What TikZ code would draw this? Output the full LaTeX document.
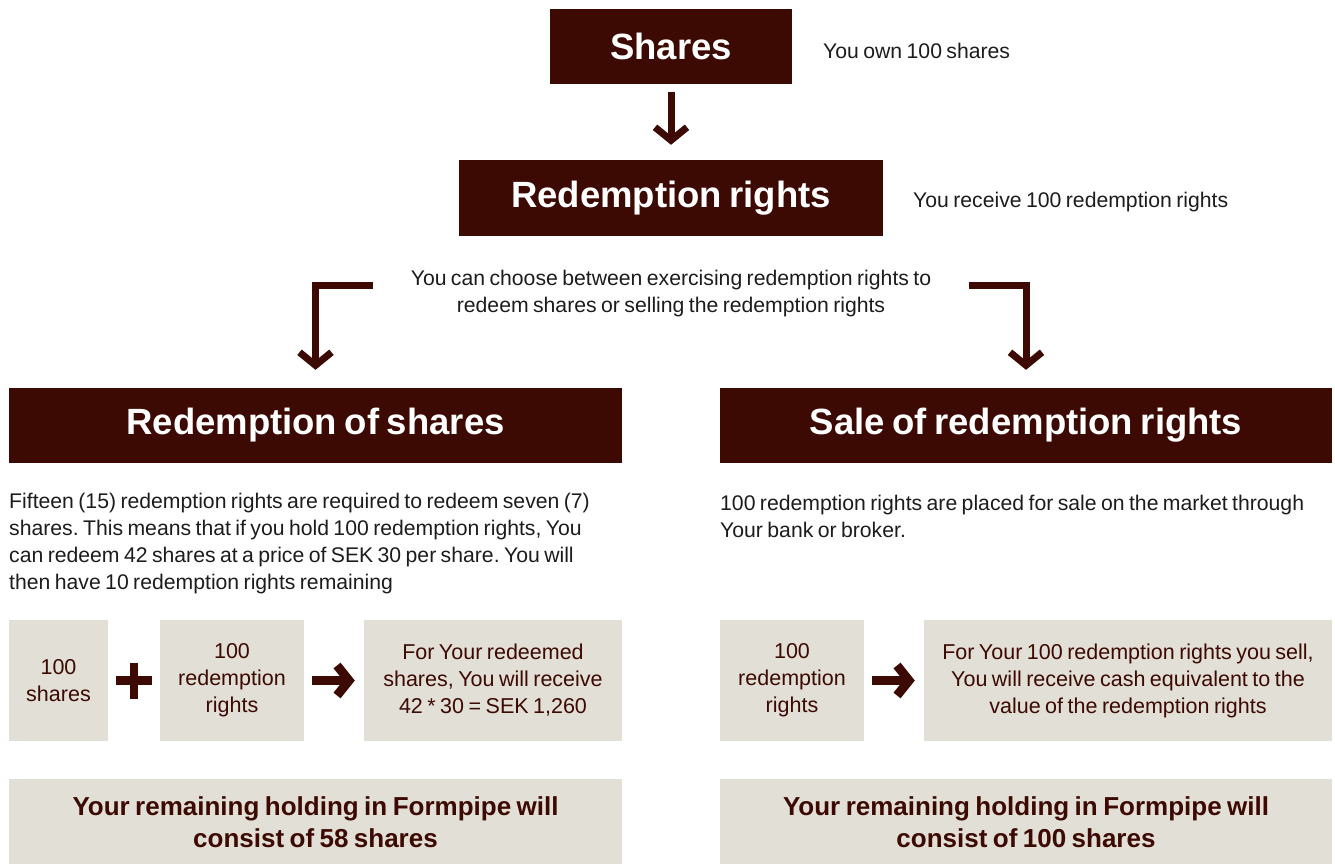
\documentclass[tikz,border=0pt]{standalone}
\usepackage{fontspec}
\setmainfont{Liberation Sans}[WordSpace=0.75]
\usetikzlibrary{arrows.meta,calc}
\definecolor{dark}{HTML}{3C0A03}
\definecolor{beige}{HTML}{E2DFD6}
\definecolor{body}{HTML}{1C1C1C}
\frenchspacing
\begin{document}
\begin{tikzpicture}[x=1pt,y=-1pt,
  hdr/.style={fill=dark,text=white,inner sep=0pt,font=\fontsize{36.5}{40}\selectfont\bfseries},
  cell/.style={fill=beige,text=dark,inner sep=0pt,align=center,font=\fontsize{21.5}{27}\selectfont},
  foot/.style={fill=beige,text=dark,inner sep=0pt,align=center,font=\fontsize{26}{32}\selectfont\bfseries},
  note/.style={text=body,inner sep=0pt,font=\fontsize{21.2}{27}\selectfont},
  bigarrow/.style={draw=dark,line width=7pt,line join=miter,-{Straight Barb[length=13pt,width=32pt]}},
  midarrow/.style={draw=dark,line width=9pt,line join=miter,-{Straight Barb[length=12pt,width=30pt]}},
  plusbar/.style={draw=dark,line width=8.5pt}
]
\useasboundingbox (0,0) rectangle (1335,864);
% headers
\node[hdr,minimum width=242pt,minimum height=75pt] (shares) at (671,46.5) {Shares};
\node[hdr,minimum width=424pt,minimum height=76pt] (rr) at (671,198) {Redemption rights};
\node[hdr,minimum width=613pt,minimum height=75pt] (redem) at (315.5,425.5) {Redemption of shares};
\node[hdr,minimum width=612pt,minimum height=75pt] (sale) at (1026,425.5) {Sale of redemption rights};
% side notes
\node[note,anchor=west] (own) at (823,51) {You own 100 shares};
\node[note,anchor=west] (recv) at (913,202) {You receive 100 redemption rights};
\node[note,align=center] (choice) at (671,293.5) {You can choose between exercising redemption rights to\\redeem shares or selling the redemption rights};
% paragraphs
\node[note,align=left,anchor=west] (pl) at (9,543.5) {Fifteen (15) redemption rights are required to redeem seven (7)\\shares. This means that if you hold 100 redemption rights, You\\can redeem 42 shares at a price of SEK 30 per share. You will\\then have 10 redemption rights remaining};
\node[note,align=left,anchor=west] (pr) at (720,516.5) {100 redemption rights are placed for sale on the market through\\Your bank or broker.};
% cells
\node[cell,minimum width=99pt,minimum height=121pt] (b1) at (58.5,680.5) {100\\shares};
\node[cell,minimum width=144pt,minimum height=121pt] (b2) at (232,680.5) {100\\redemption\\rights};
\node[cell,minimum width=258pt,minimum height=121pt] (b3) at (493,680.5) {For Your redeemed\\shares, You will receive\\42 * 30 = SEK 1,260};
\node[cell,minimum width=144pt,minimum height=121pt] (b4) at (792,680.5) {100\\redemption\\rights};
\node[cell,minimum width=408pt,minimum height=121pt] (b5) at (1128,680.5) {For Your 100 redemption rights you sell,\\You will receive cash equivalent to the\\value of the redemption rights};
% footers
\node[foot,minimum width=613pt,minimum height=86pt] (f1) at (315.5,822) {Your remaining holding in Formpipe will\\consist of 58 shares};
\node[foot,minimum width=612pt,minimum height=86pt] (f2) at (1026,822) {Your remaining holding in Formpipe will\\consist of 100 shares};
% connectors
\draw[bigarrow] ([yshift=-8pt]shares.south) -- ([yshift=15pt]rr.north);
\coordinate (lstart) at (373,285);
\coordinate (rstart) at (969,285);
\draw[bigarrow] (lstart) -| ([yshift=18pt]redem.north);
\draw[bigarrow] (rstart) -| ([yshift=18pt]sale.north);
% plus sign
\coordinate (plusc) at ($(b1.east)!0.5!(b2.west)$);
\draw[plusbar] ([xshift=-18pt]plusc) -- ([xshift=18pt]plusc);
\draw[plusbar] ([yshift=-18pt]plusc) -- ([yshift=18pt]plusc);
% small arrows
\draw[midarrow] ([xshift=8pt]b2.east) -- ([xshift=-9pt]b3.west);
\draw[midarrow] ([xshift=8pt]b4.east) -- ([xshift=-9pt]b5.west);
\end{tikzpicture}
\end{document}
